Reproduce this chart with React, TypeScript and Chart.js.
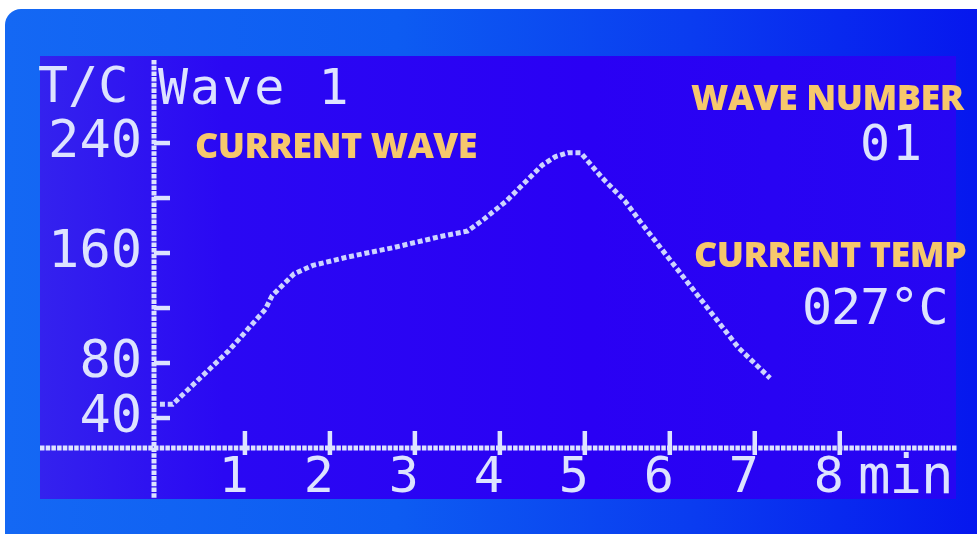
import React, { useEffect, useRef } from "react";
import { Chart, registerables } from "chart.js";

Chart.register(...registerables);

// ---- data ----
const minutes = [0, 0.15, 0.81, 1.24, 1.32, 1.58, 1.8, 2.2, 2.75, 3.3, 3.62, 3.8, 4.08, 4.5, 4.65, 4.8, 4.95, 5.2, 5.47, 5.65, 6.81, 7.18];
const temps = [50, 50, 89, 119, 129, 145, 151, 157, 164, 172, 176, 184, 198, 224, 230, 233, 233, 215, 198, 183, 91, 69];
const xTickValues = [1, 2, 3, 4, 5, 6, 7, 8];
const xTickLabels = ["1", "2", "3", "4", "5", "6", "7", "8"];
const yTickValues = [40, 80, 120, 160, 200, 240];
const yTickLabels = ["40", "80", "", "160", "", "240"];

const LCD_FONT = "'DejaVu Sans Mono', 'Liberation Mono', monospace";
const LABEL_FONT = "'Open Sans', 'Noto Sans', sans-serif";
const PIX = "#dde3ff";
const YELLOW = "#f6c86c";

const lcdAxes = {
  id: "lcdAxes",
  beforeDatasetsDraw(chart: any) {
    const { ctx } = chart;
    const x = chart.scales.x;
    const y = chart.scales.y;
    const axisX = x.left;
    const axisY = y.bottom;
    ctx.save();
    ctx.strokeStyle = PIX;
    ctx.lineWidth = 5;
    ctx.setLineDash([4.5, 1.2]);
    ctx.beginPath();
    ctx.moveTo(40, axisY);
    ctx.lineTo(x.right, axisY);
    ctx.stroke();
    ctx.beginPath();
    ctx.moveTo(axisX, y.top);
    ctx.lineTo(axisX, 498);
    ctx.stroke();
    ctx.setLineDash([]);
    ctx.lineWidth = 4.5;
    for (const v of yTickValues) {
      const py = y.getPixelForValue(v);
      ctx.beginPath();
      ctx.moveTo(axisX, py);
      ctx.lineTo(axisX + 16, py);
      ctx.stroke();
    }
    for (const v of xTickValues) {
      const px = x.getPixelForValue(v);
      ctx.beginPath();
      ctx.moveTo(px, axisY - 17);
      ctx.lineTo(px, axisY + 7);
      ctx.stroke();
    }
    ctx.restore();
  },
};

export default function App() {
  const ref = useRef<HTMLCanvasElement>(null);

  useEffect(() => {
    document.body.style.margin = "0";
    const chart = new Chart(ref.current as HTMLCanvasElement, {
      type: "line",
      data: {
        datasets: [
          {
            data: minutes.map((m, i) => ({ x: m, y: temps[i] })),
            borderColor: "#cdd4ff",
            borderWidth: 5,
            borderDash: [5, 2.8],
            borderCapStyle: "butt",
            pointRadius: 0,
            fill: false,
            tension: 0,
          },
        ],
      },
      options: {
        responsive: false,
        animation: false,
        events: [],
        layout: { padding: { top: 60, right: 20, left: 0, bottom: 0 } },
        plugins: { legend: { display: false }, tooltip: { enabled: false } },
        scales: {
          x: {
            type: "linear",
            min: -0.07,
            max: 9.38,
            afterFit: (s: any) => {
              s.height = 86;
            },
            afterBuildTicks: (s: any) => {
              s.ticks = xTickValues.map((v) => ({ value: v }));
            },
            grid: { display: false, drawTicks: false },
            border: { display: false },
            ticks: {
              color: PIX,
              font: { family: LCD_FONT, size: 50, lineHeight: 1 },
              padding: 6,
              labelOffset: -11,
              autoSkip: false,
              maxRotation: 0,
              callback: (_v: any, i: number) => xTickLabels[i],
            },
          },
          y: {
            min: 18.2,
            max: 300.4,
            afterFit: (s: any) => {
              s.width = 154;
            },
            afterBuildTicks: (s: any) => {
              s.ticks = yTickValues.map((v) => ({ value: v }));
            },
            grid: { display: false, drawTicks: false },
            border: { display: false },
            ticks: {
              color: PIX,
              font: { family: LCD_FONT, size: 52, lineHeight: 1 },
              padding: 12,
              autoSkip: false,
              callback: (_v: any, i: number) => yTickLabels[i],
            },
          },
        },
      },
      plugins: [lcdAxes],
    } as any);
    return () => chart.destroy();
  }, []);

  const lcdText = (text: string, left: number, top: number, extra: any = {}) => (
    <div
      style={{
        position: "absolute",
        left,
        top,
        fontFamily: LCD_FONT,
        fontSize: 50,
        lineHeight: "50px",
        color: PIX,
        whiteSpace: "pre",
        ...extra,
      }}
    >
      {text}
    </div>
  );

  const yellowText = (text: string, left: number, top: number) => (
    <div
      style={{
        position: "absolute",
        left,
        top,
        fontFamily: LABEL_FONT,
        fontWeight: 800,
        fontSize: 36,
        lineHeight: "36px",
        letterSpacing: "-0.5px",
        color: YELLOW,
        whiteSpace: "pre",
      }}
    >
      {text}
    </div>
  );

  return (
    <div
      style={{
        position: "relative",
        width: 977,
        height: 534,
        overflow: "hidden",
        background: "#ffffff",
      }}
    >
      <div
        style={{
          position: "absolute",
          left: 5,
          top: 9,
          width: 980,
          height: 530,
          borderTopLeftRadius: 16,
          background:
            "linear-gradient(90deg, #1468f4 0%, #0d5cf2 40%, #0a3cf0 70%, #0616ee 100%)",
        }}
      />
      <div
        style={{
          position: "absolute",
          left: 40,
          top: 56,
          width: 916,
          height: 443,
          background:
            "linear-gradient(90deg, #3422ee 0%, #2a08f3 20%, #2a00f4 60%, #2606f2 100%)",
        }}
      />
      <canvas
        ref={ref}
        width={977}
        height={534}
        style={{ position: "absolute", left: 0, top: 0, width: 977, height: 534 }}
      />
      {lcdText("T/C", 38, 60)}
      {lcdText("Wave 1", 158, 62, { letterSpacing: "2px" })}
      {lcdText("01", 860, 118, { letterSpacing: "2px" })}
      {lcdText("027°C", 802, 282, { letterSpacing: "-1px" })}
      {lcdText("min", 858, 450, { fontSize: 54, letterSpacing: "-1px" })}
      {yellowText("CURRENT WAVE", 195, 127)}
      {yellowText("WAVE NUMBER", 691, 79)}
      {yellowText("CURRENT TEMP", 694, 236)}
    </div>
  );
}
